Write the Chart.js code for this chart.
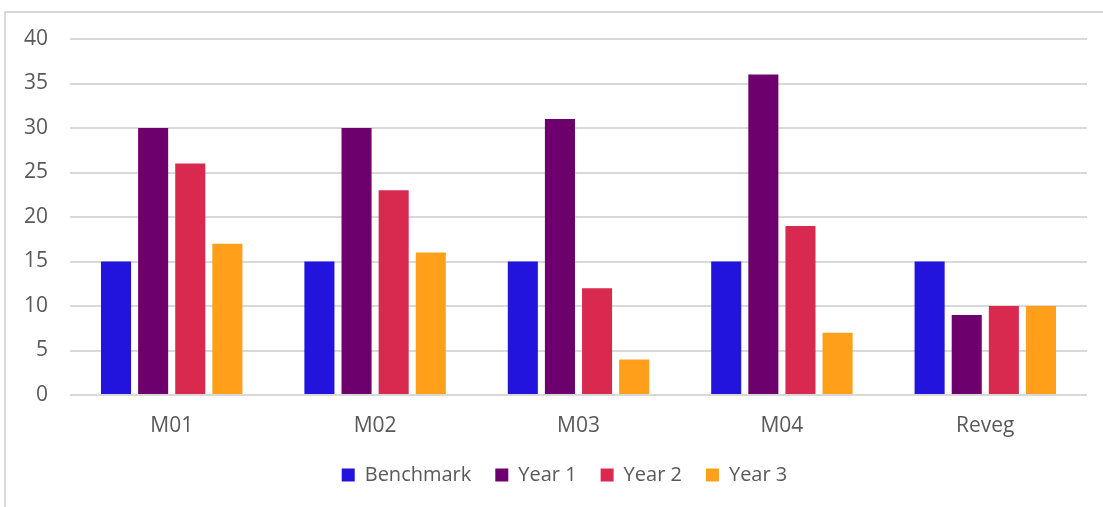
<!DOCTYPE html>
<html>
<head>
<meta charset="utf-8">
<script src="https://cdn.jsdelivr.net/npm/chart.js@4"></script>
<style>
  html, body { margin: 0; padding: 0; background: #fff; overflow: hidden; }
  #frame {
    position: absolute; left: 4px; top: 11px;
    width: 1200px; height: 600px;
    border: 2px solid #d9d9d9;
  }
  /* canvas runs a little past the right edge so the legend sits centred under the bars */
  #wrap { position: absolute; left: 0; top: 0; width: 1129px; height: 507px; }
</style>
</head>
<body>
<div id="frame"></div>
<div id="wrap"><canvas id="chart"></canvas></div>
<script>
// sites and survey results
const sites     = ['M01', 'M02', 'M03', 'M04', 'Reveg'];
const benchmark = [15, 15, 15, 15, 15];
const year1     = [30, 30, 31, 36, 9];
const year2     = [26, 23, 12, 19, 10];
const year3     = [17, 16, 4, 7, 10];

const textColor = '#595959';
const gridColor = '#d9d9d9';
const font = { family: "'Open Sans', 'Noto Sans', sans-serif", size: 21 };

function bars(label, data, color) {
  return {
    label, data,
    backgroundColor: color,
    borderWidth: 0,
    categoryPercentage: 0.73,
    barPercentage: 0.81
  };
}

new Chart(document.getElementById('chart'), {
  type: 'bar',
  data: {
    labels: sites,
    datasets: [
      bars('Benchmark', benchmark, '#2214dd'),
      bars('Year 1', year1, '#6e006e'),
      bars('Year 2', year2, '#d9294f'),
      bars('Year 3', year3, '#ff9f1a')
    ]
  },
  options: {
    responsive: true, maintainAspectRatio: false,
    animation: false,
    layout: { padding: { top: 39, right: 0, bottom: 12, left: 0 } },
    plugins: {
      tooltip: { enabled: false },
      legend: {
        position: 'bottom',
        labels: { color: textColor, font: { ...font, size: 20 }, boxWidth: 13, boxHeight: 13, padding: 24 }
      }
    },
    scales: {
      x: {
        grid: { display: false },
        border: { display: false },
        ticks: { color: textColor, font, padding: 10 },
        afterFit: s => { s.height = 46; }
      },
      y: {
        min: 0, max: 40,
        ticks: { stepSize: 5, color: textColor, font, padding: 22 },
        grid: { color: gridColor, lineWidth: 2, drawTicks: false },
        border: { display: false },
        afterFit: s => { s.width = 70; }
      },
      // empty right-hand axis, only there to reserve the right margin
      yRight: {
        position: 'right',
        min: 0, max: 40,
        grid: { display: false, drawTicks: false },
        border: { display: false },
        ticks: { display: false },
        afterFit: s => { s.width = 42; }
      }
    }
  }
});
</script>
</body>
</html>
